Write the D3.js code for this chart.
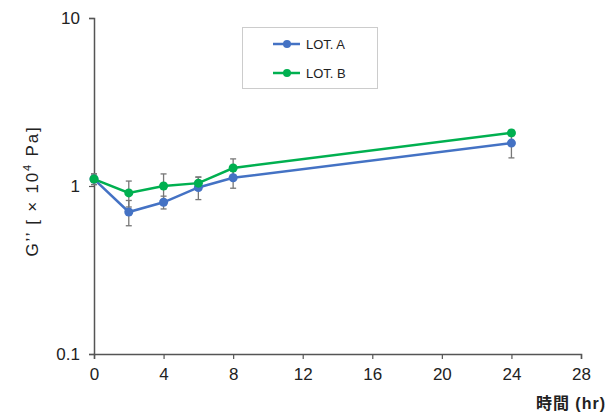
<!DOCTYPE html>
<html><head><meta charset="utf-8">
<script src="https://cdn.jsdelivr.net/npm/d3@7"></script>
<style>body{margin:0;background:#fff}svg{display:block}text{font-family:"Liberation Sans","Noto Sans CJK JP",sans-serif}</style>
</head><body><svg id="c" width="611" height="412"></svg>
<script>
const hours = [0, 2, 4, 6, 8, 24];
const lotA = [1.10, 0.70, 0.80, 0.98, 1.12, 1.80];
const lotAErr = [0.08, 0.12, 0.07, 0.15, 0.15, 0.33];
const lotB = [1.10, 0.91, 1.00, 1.04, 1.28, 2.07];
const lotBErr = [0.08, 0.16, 0.18, 0.09, 0.17, 0.08];
const xTicks = [0, 4, 8, 12, 16, 20, 24, 28];
const yTicks = [0.1, 1, 10];
const seriesNames = ["LOT. A", "LOT. B"];
const colors = ["#4472C4", "#00B050"];

const svg = d3.select("#c");
const x = d3.scaleLinear().domain([0, 28]).range([94, 581]);
const y = d3.scaleLog().domain([0.1, 10]).range([354, 18]);

const axisColor = "#555";
const gx = svg.append("g").attr("transform", "translate(0,354)")
  .call(d3.axisBottom(x).tickValues(xTicks).tickSize(5).tickPadding(9).tickFormat(d3.format("d")));
const gy = svg.append("g").attr("transform", "translate(94,0)")
  .call(d3.axisLeft(y).tickValues(yTicks).tickSize(5).tickPadding(9).tickFormat(d => d === 0.1 ? "0.1" : d3.format("d")(d)));
[gx, gy].forEach(g => {
  g.select(".domain").attr("stroke", axisColor).attr("stroke-width", 1.5);
  g.selectAll(".tick line").attr("stroke", axisColor).attr("stroke-width", 1.2);
  g.selectAll(".tick text").attr("fill", "#222").style("font-size", "17px");
});

const series = [
  {name: seriesNames[0], vals: lotA, err: lotAErr, color: colors[0]},
  {name: seriesNames[1], vals: lotB, err: lotBErr, color: colors[1]}
];

// error bars
series.forEach(s => {
  const g = svg.append("g").attr("stroke", "#777").attr("stroke-width", 1.3);
  hours.forEach((h, i) => {
    const cx = x(h), y1 = y(s.vals[i] - s.err[i]), y2 = y(s.vals[i] + s.err[i]);
    g.append("line").attr("x1", cx).attr("x2", cx).attr("y1", y1).attr("y2", y2);
    g.append("line").attr("x1", cx - 3).attr("x2", cx + 3).attr("y1", y1).attr("y2", y1);
    g.append("line").attr("x1", cx - 3).attr("x2", cx + 3).attr("y1", y2).attr("y2", y2);
  });
});

const line = d3.line().x((d, i) => x(hours[i])).y(d => y(d));
series.forEach(s => {
  svg.append("path").datum(s.vals).attr("d", line).attr("fill", "none")
    .attr("stroke", s.color).attr("stroke-width", 2.5);
  svg.selectAll(null).data(s.vals).enter().append("circle")
    .attr("cx", (d, i) => x(hours[i])).attr("cy", d => y(d)).attr("r", 4.5).attr("fill", s.color);
});

// legend
const lg = svg.append("g");
lg.append("rect").attr("x", 242.5).attr("y", 27.5).attr("width", 135).attr("height", 61)
  .attr("fill", "#fff").attr("stroke", "#ccc");
series.forEach((s, i) => {
  const ly = 44 + i * 29;
  lg.append("line").attr("x1", 273).attr("x2", 300).attr("y1", ly).attr("y2", ly).attr("stroke", s.color).attr("stroke-width", 2.5);
  lg.append("circle").attr("cx", 287).attr("cy", ly).attr("r", 4).attr("fill", s.color);
  lg.append("text").attr("x", 306).attr("y", ly + 5).text(s.name).style("font-size", "13px").attr("fill", "#222");
});

// axis titles
svg.append("text").attr("transform", "translate(38,191) rotate(-90)").attr("text-anchor", "middle")
  .style("font-size", "17px").style("letter-spacing", "1.8px").attr("fill", "#222")
  .html('G\u2019\u2019 [ \u00d7 10<tspan dy="-7" font-size="11">4</tspan><tspan dy="7"> Pa]</tspan>');
svg.append("text").attr("x", 606).attr("y", 409).attr("text-anchor", "end")
  .style("font-size", "16px").style("font-weight", "bold").style("letter-spacing", "1px").attr("fill", "#222").text("時間 (hr)");
</script></body></html>
